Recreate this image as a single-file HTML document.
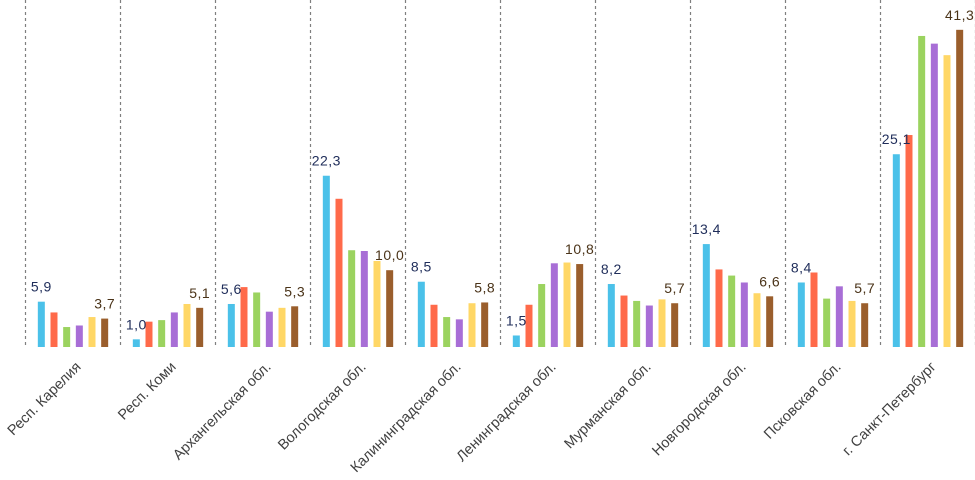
<!DOCTYPE html>
<html><head><meta charset="utf-8"><style>
html,body{margin:0;padding:0;background:#fff;}
svg{display:block;font-family:"Liberation Sans",sans-serif;}
</style></head><body>
<svg id="chart" width="975" height="480" viewBox="0 0 975 480" xmlns="http://www.w3.org/2000/svg"></svg>
<script>
const categories = ["Респ. Карелия","Респ. Коми","Архангельская обл.","Вологодская обл.","Калининградская обл.","Ленинградская обл.","Мурманская обл.","Новгородская обл.","Псковская обл.","г. Санкт-Петербург"];
const series1 = [5.9,1.0,5.6,22.3,8.5,1.5,8.2,13.4,8.4,25.1];
const series2 = [4.5,3.3,7.8,19.3,5.5,5.5,6.7,10.1,9.7,27.6];
const series3 = [2.6,3.5,7.1,12.6,3.9,8.2,6.0,9.3,6.3,40.5];
const series4 = [2.8,4.5,4.6,12.5,3.6,10.9,5.4,8.4,7.9,39.5];
const series5 = [3.9,5.6,5.1,11.2,5.7,11.0,6.2,7.0,6.0,38.0];
const series6 = [3.7,5.1,5.3,10.0,5.8,10.8,5.7,6.6,5.7,41.3];
const firstLabels = ["5,9","1,0","5,6","22,3","8,5","1,5","8,2","13,4","8,4","25,1"];
const lastLabels = ["3,7","5,1","5,3","10,0","5,8","10,8","5,7","6,6","5,7","41,3"];
const colors = ["#4bc1e9","#ff6a4a","#9bd35f","#a86ed6","#ffd766","#9a5e2c"];

const svg = document.getElementById('chart');
const NS = "http://www.w3.org/2000/svg";
const x0 = 25.5, gw = 95, base = 347, scale = 7.68;
const slot = 12.67, bw = 7;
function yPos(v){ return base - v*scale; }
function gx(i){ return x0 + i*gw; }
function barX(i,s){ return gx(i) + (gw - 6*slot)/2 + s*slot + (slot-bw)/2; }
function mk(tag, attrs){ const e=document.createElementNS(NS,tag); for(const k in attrs) e.setAttribute(k,attrs[k]); svg.appendChild(e); return e; }

for(let i=0;i<=categories.length;i++){
  const l = mk('line',{x1:gx(i),x2:gx(i),y1:0,y2:347,stroke:'#7f7f7f','stroke-width':1.2,'stroke-dasharray':'3,3'});
  
  
}
const all = [series1,series2,series3,series4,series5,series6];
categories.forEach((c,i)=>{
  all.forEach((ser,s)=>{
    const v = ser[i];
    const r = mk('rect',{x:barX(i,s),y:yPos(v),width:bw,height:v*scale,fill:colors[s]});
    
    
  });
  const t1 = mk('text',{x:barX(i,0)+bw/2,y:yPos(series1[i])-10,'text-anchor':'middle','font-size':14,'letter-spacing':'0.5',fill:'#1f2d5a'});
  t1.textContent = firstLabels[i];
  
  
  const t2 = mk('text',{x:barX(i,5)+bw/2,y:yPos(series6[i])-10,'text-anchor':'middle','font-size':14,'letter-spacing':'0.5',fill:'#4a3318'});
  t2.textContent = lastLabels[i];
  
  
  const cx = gx(i)+gw/2+1;
  const lab = mk('text',{transform:`translate(${cx},360) rotate(-45)`,'text-anchor':'end',dy:'0.75em','font-size':14.5,fill:'#404040'});
  lab.textContent = c;
  
  
});
</script>
</body></html>
